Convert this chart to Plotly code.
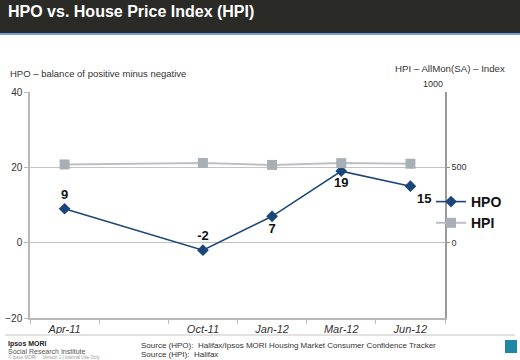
import plotly.graph_objects as go

categories = ["Apr-11", " ", "Oct-11", "Jan-12", "Mar-12", "Jun-12"]
data_categories = ["Apr-11", "Oct-11", "Jan-12", "Mar-12", "Jun-12"]
hpo_values = [9, -2, 7, 19, 15]
hpi_values = [519, 529, 516, 528, 524]
hpo_label_pos = ["top center", "top center", "bottom center", "bottom center", "bottom right"]
left_ticks = [-20, 0, 20, 40]
right_ticks = [0, 500]

FONT = "Liberation Sans, Arial, sans-serif"
NAVY = "#1b467a"
GREY = "#a9afb6"

fig = go.Figure()
fig.add_trace(go.Scatter(
    x=data_categories, y=hpi_values, name="HPI", yaxis="y2",
    mode="lines+markers",
    line=dict(color="#bcc0c5", width=2),
    marker=dict(symbol="square", size=10, color=GREY),
))
fig.add_trace(go.Scatter(
    x=data_categories, y=hpo_values, name="HPO",
    mode="lines+markers+text",
    text=[str(v) for v in hpo_values],
    textposition=hpo_label_pos,
    textfont=dict(family=FONT, size=13, color="#111111", weight="bold"),
    line=dict(color=NAVY, width=1.6),
    marker=dict(symbol="diamond", size=9, color=NAVY),
))

fig.update_layout(
    width=520, height=360,
    margin=dict(l=30, r=75, t=92, b=42, autoexpand=False),
    paper_bgcolor="white", plot_bgcolor="white",
    font=dict(family=FONT, size=10, color="#333333"),
    showlegend=True,
    legend=dict(
        x=(507 - 30) / 415, y=(318 - 186) / 226, xanchor="right", yanchor="top",
        traceorder="reversed",
        font=dict(family=FONT, size=14, color="#111111", weight="bold"),
        itemwidth=30, tracegroupgap=0, bgcolor="rgba(0,0,0,0)",
    ),
    xaxis=dict(
        type="category", categoryorder="array", categoryarray=categories,
        range=[-0.5, 5.5], tickson="boundaries", automargin=False,
        ticks="outside", ticklen=4, tickcolor="#b8b8b8",
        showline=True, linecolor="#b8b8b8", linewidth=1.5,
        showgrid=False, zeroline=False,
        tickfont=dict(family=FONT, size=11, color="#333333", style="italic"),
    ),
    yaxis=dict(
        range=[-20, 40], tickvals=left_ticks, automargin=False,
        ticks="outside", ticklen=4, tickcolor="#b8b8b8",
        showline=True, linecolor="#b8b8b8", linewidth=1.5,
        showgrid=True, gridcolor="#c4c4c4", gridwidth=1,
        zeroline=False,
        tickfont=dict(family=FONT, size=10, color="#333333"),
    ),
    yaxis2=dict(
        range=[-500, 1000], tickvals=right_ticks, automargin=False,
        overlaying="y", side="right",
        ticks="outside", ticklen=3, tickcolor="#8a8a8a",
        showline=True, linecolor="#9a9a9a", linewidth=1.5,
        showgrid=False, zeroline=False,
        tickfont=dict(family=FONT, size=9, color="#333333"),
    ),
)

shapes = [
    dict(type="rect", xref="paper", yref="paper", x0=-30/415, x1=490/415,
         y0=(318-33)/226, y1=(318+0)/226 + 0.2, fillcolor="#2a2a26", line_width=0, layer="above"),
    dict(type="rect", xref="paper", yref="paper", x0=-30/415, x1=490/415,
         y0=(318-35)/226, y1=(318-33)/226, fillcolor="#6f9fd6", line_width=0, layer="above"),
    dict(type="line", xref="paper", yref="paper", x0=-25/415, x1=485/415,
         y0=(318-335)/226, y1=(318-335)/226, line=dict(color="#e2e2e2", width=2)),
    dict(type="rect", xref="paper", yref="paper", x0=475/415, x1=487/415,
         y0=(318-353)/226, y1=(318-340)/226, fillcolor="#1f86a6", line_width=0),
]
fig.update_layout(shapes=shapes)

def px(xp, yp):
    return (xp - 30) / 415, (318 - yp) / 226

anns = []
def add(text, xp, yp, size, color="#333333", bold=False, xanchor="left", yanchor="middle"):
    x, y = px(xp, yp)
    anns.append(dict(text=text, x=x, y=y, xref="paper", yref="paper", showarrow=False,
                     xanchor=xanchor, yanchor=yanchor,
                     font=dict(family=FONT, size=size, color=color, weight="bold" if bold else "normal")))

add("HPO vs. House Price Index (HPI)", 6, 12, 16, color="white", bold=True)
add("HPO – balance of positive minus negative", 8, 73, 9.5)
add("HPI – AllMon(SA) – Index", 507, 68, 9.7, xanchor="right")
add("Ipsos MORI", 6, 344, 7, color="#222222", bold=True)
add("Social Research Institute", 6, 351, 7, color="#555555")
add("© Ipsos MORI     Version 1 | Internal Use Only", 6, 357, 4.5, color="#9a9a9a")
add("Source (HPO):  Halifax/Ipsos MORI Housing Market Consumer Confidence Tracker", 139, 345, 8)
add("Source (HPI):  Halifax", 139, 354, 8)
anns.append(dict(text="1000", x=1.0, y=1000, xref="paper", yref="y2", showarrow=False,
                 xanchor="right", yanchor="bottom", yshift=1,
                 font=dict(family=FONT, size=9, color="#333333")))
fig.update_layout(annotations=anns)

fig.write_html(
    "out.html",
    config={"displayModeBar": False},
    post_script="document.body.style.margin='0';document.body.style.padding='0';document.body.style.overflow='hidden';",
)
